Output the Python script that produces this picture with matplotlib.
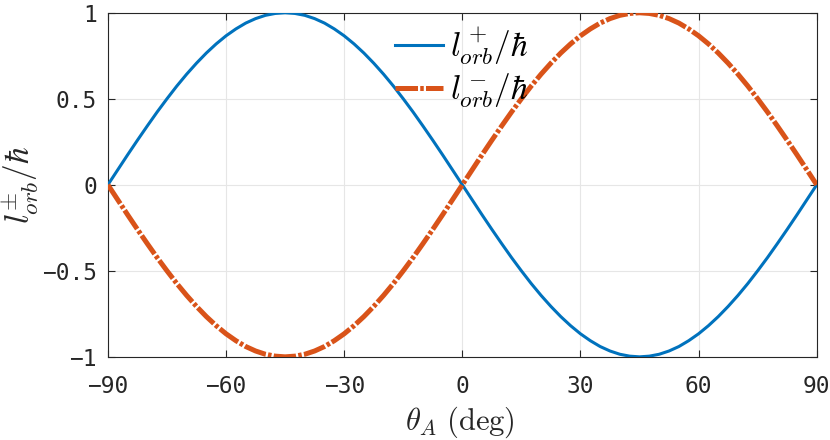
import matplotlib
matplotlib.use('Agg')
import matplotlib.pyplot as plt

plt.rcParams['mathtext.fontset'] = 'cm'

# theta_A in degrees, curves
THETA = [-90, -87.5, -85, -82.5, -80, -77.5, -75, -72.5, -70, -67.5, -65,
         -62.5, -60, -57.5, -55, -52.5, -50, -47.5, -45, -42.5, -40, -37.5,
         -35, -32.5, -30, -27.5, -25, -22.5, -20, -17.5, -15, -12.5, -10,
         -7.5, -5, -2.5, 0, 2.5, 5, 7.5, 10, 12.5, 15, 17.5, 20, 22.5, 25,
         27.5, 30, 32.5, 35, 37.5, 40, 42.5, 45, 47.5, 50, 52.5, 55, 57.5,
         60, 62.5, 65, 67.5, 70, 72.5, 75, 77.5, 80, 82.5, 85, 87.5, 90]
L_MINUS = [0.0, -0.087, -0.174, -0.259, -0.342, -0.423, -0.5, -0.574, -0.643,
           -0.707, -0.766, -0.819, -0.866, -0.906, -0.94, -0.966, -0.985,
           -0.996, -1.0,
           -0.996, -0.985, -0.966, -0.94, -0.906, -0.866, -0.819, -0.766,
           -0.707, -0.643, -0.574, -0.5, -0.423, -0.342, -0.259, -0.174,
           -0.087, 0.0,
           0.087, 0.174, 0.259, 0.342, 0.423, 0.5, 0.574, 0.643, 0.707, 0.766,
           0.819, 0.866, 0.906, 0.94, 0.966, 0.985, 0.996, 1.0,
           0.996, 0.985, 0.966, 0.94, 0.906, 0.866, 0.819, 0.766, 0.707, 0.643,
           0.574, 0.5, 0.423, 0.342, 0.259, 0.174, 0.087, 0.0]
L_PLUS = [0.0, 0.087, 0.174, 0.259, 0.342, 0.423, 0.5, 0.574, 0.643, 0.707,
          0.766, 0.819, 0.866, 0.906, 0.94, 0.966, 0.985, 0.996, 1.0,
          0.996, 0.985, 0.966, 0.94, 0.906, 0.866, 0.819, 0.766, 0.707, 0.643,
          0.574, 0.5, 0.423, 0.342, 0.259, 0.174, 0.087, 0.0,
          -0.087, -0.174, -0.259, -0.342, -0.423, -0.5, -0.574, -0.643,
          -0.707, -0.766, -0.819, -0.866, -0.906, -0.94, -0.966, -0.985,
          -0.996, -1.0,
          -0.996, -0.985, -0.966, -0.94, -0.906, -0.866, -0.819, -0.766,
          -0.707, -0.643, -0.574, -0.5, -0.423, -0.342, -0.259, -0.174,
          -0.087, 0.0]

XTICKS = [-90, -60, -30, 0, 30, 60, 90]
XTICKLABELS = ['\u221290', '\u221260', '\u221230', '0', '30', '60', '90']
YTICKS = [-1, -0.5, 0, 0.5, 1]
YTICKLABELS = ['\u22121', '\u22120.5', '0', '0.5', '1']

BLUE = '#0072BD'
ORANGE = '#D95319'
INK = '#262626'

fig = plt.figure(figsize=(8.3, 4.4), dpi=100)
ax = fig.add_axes([0.130, 0.189, 0.854, 0.782])

ax.plot(THETA, L_PLUS, color=BLUE, lw=2.2, label=r'$l^+_{orb}/\hbar$', zorder=3)
ax.plot(THETA, L_MINUS, color=ORANGE, lw=3.6, ls=(0, (4.5, 0.45, 0.7, 0.45)),
        label=r'$l^-_{orb}/\hbar$', zorder=4)

ax.set_xlim(-90, 90)
ax.set_ylim(-1, 1)
ax.set_xticks(XTICKS)
ax.set_xticklabels(XTICKLABELS)
ax.set_yticks(YTICKS)
ax.set_yticklabels(YTICKLABELS)

ax.grid(True, color='#e6e6e6', lw=0.8)
ax.set_axisbelow(True)
ax.tick_params(direction='in', length=5, width=0.8, colors=INK,
               top=True, right=True, labelsize=16.5)
ax.tick_params(axis='x', pad=13)
ax.tick_params(axis='y', pad=8)
for lab in ax.get_xticklabels() + ax.get_yticklabels():
    lab.set_fontfamily('DejaVu Sans Mono')
    lab.set_color(INK)
for s in ax.spines.values():
    s.set_color(INK)
    s.set_linewidth(0.8)

ax.set_xlabel(r'$\theta_A\ (\mathrm{deg})$', fontsize=22, color=INK)
ax.set_ylabel(r'$l^{\pm}_{orb}/\hbar$', fontsize=24, color=INK)
ax.xaxis.set_label_coords(0.497, -0.14)
ax.yaxis.set_label_coords(-0.095, 0.5)

ax.legend(loc='center left', bbox_to_anchor=((395 - 108) / 709, 0.84),
          frameon=False, fontsize=24, handlelength=1.45, handletextpad=0.2,
          labelspacing=0.15, borderpad=0, borderaxespad=0)

fig.savefig('out.png', dpi=100)
